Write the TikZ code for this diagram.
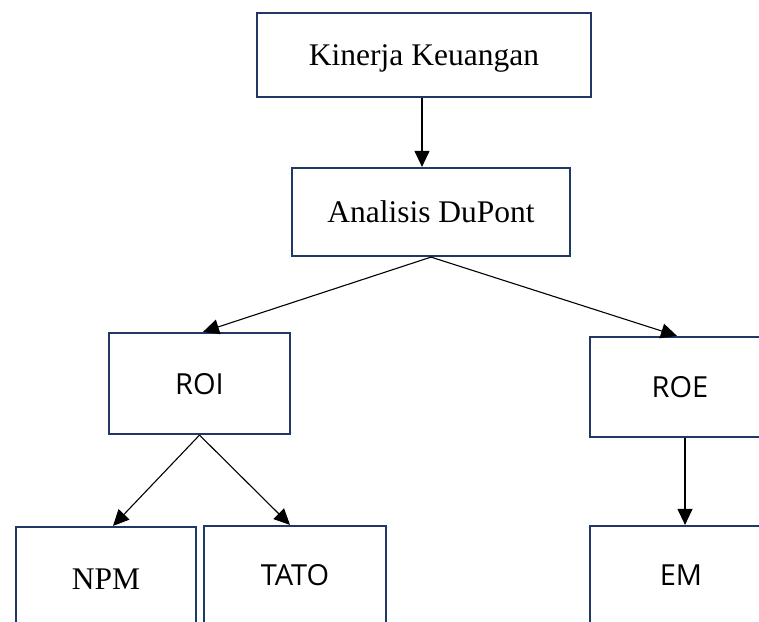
\documentclass[tikz,border=0pt]{standalone}
\usepackage{fontspec}
\setmainfont{Liberation Serif}
\newfontfamily\sansf{Open Sans}
\usetikzlibrary{arrows.meta}
\definecolor{boxnavy}{RGB}{31,56,100}
\tikzset{
  boxnode/.style={draw=boxnavy, line width=2.2pt, fill=white, inner sep=0pt,
    text height=21pt, text depth=0pt, anchor=center},
  serifbox/.style={boxnode, font=\fontsize{31.5}{36}\selectfont},
  sansbox/.style={boxnode, font=\sansf\fontsize{29}{34}\selectfont},
  arr/.style={draw=black, line width=1.1pt, -{Triangle[length=16pt,width=15pt]}}
}
\begin{document}
\begin{tikzpicture}[x=1pt, y=-1pt]
\useasboundingbox (0,0) rectangle (759,621);
\clip (0,0) rectangle (759,621);
\fill[white] (0,0) rectangle (759,621);
\node[serifbox, minimum width=334pt, minimum height=84pt] (K) at (424,55) {Kinerja Keuangan};
\node[serifbox, minimum width=278pt, minimum height=88pt] (A) at (431,212) {Analisis DuPont};
\node[sansbox, minimum width=181pt, minimum height=101pt] (ROI) at (199.5,383.5) {ROI};
\node[sansbox, minimum width=180pt, minimum height=100pt] (ROE) at (680,387) {ROE};
\node[serifbox, minimum width=180pt, minimum height=104pt] (NPM) at (106,579) {NPM};
\node[sansbox, minimum width=182pt, minimum height=98pt] (TATO) at (295,575) {TATO};
\node[sansbox, minimum width=182pt, minimum height=98pt] (EM) at (681,575) {EM};
\draw[arr] ([xshift=-2pt]K.south) -- ([xshift=-2pt]K.south |- A.north);
\draw[arr] (A.south) -- ([xshift=3.5pt]ROI.north);
\draw[arr] (A.south) -- ([xshift=-3pt]ROE.north);
\draw[arr] ([xshift=5pt]ROE.south) -- ([xshift=5pt]ROE.south |- EM.north);
\draw[arr] (ROI.south) -- ([xshift=7pt]NPM.north);
\draw[arr] (ROI.south) -- ([xshift=-5pt]TATO.north);
\end{tikzpicture}
\end{document}
